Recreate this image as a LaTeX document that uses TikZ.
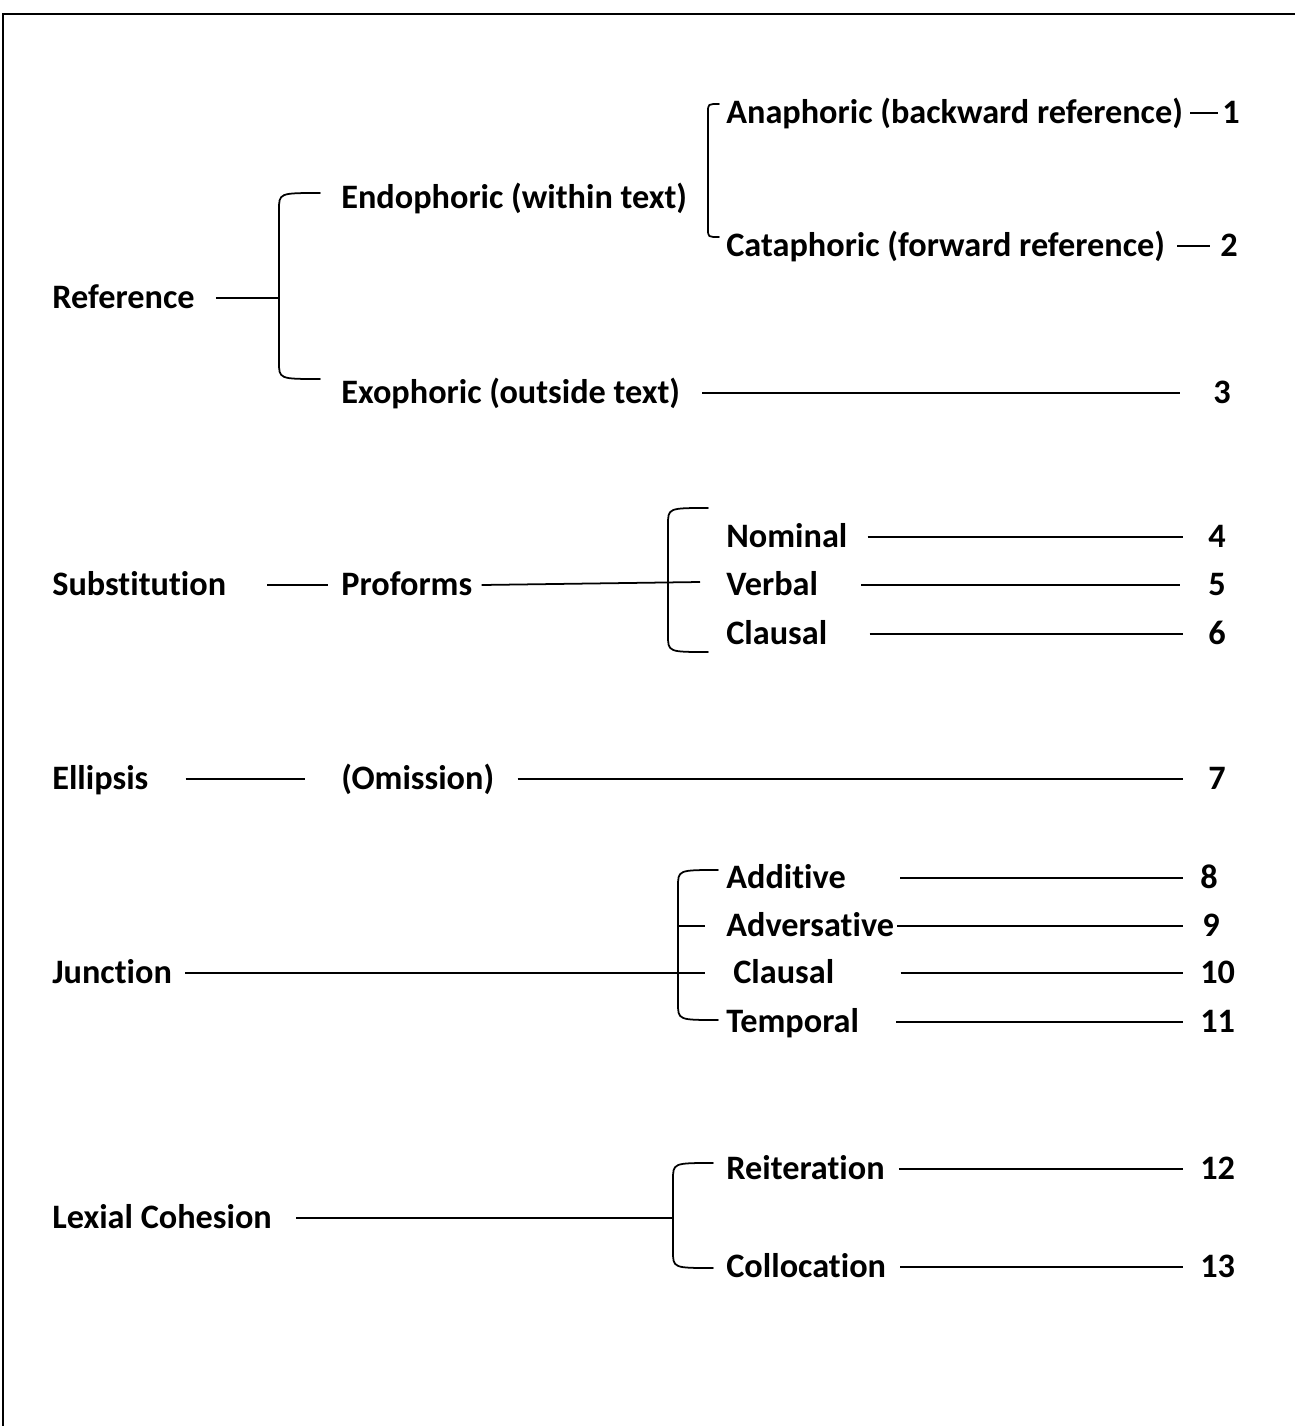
\documentclass[tikz,border=0pt]{standalone}
\usepackage{fontspec}
\setmainfont[Ligatures=NoCommon]{Carlito}

\begin{document}
\begin{tikzpicture}[x=0.02cm,y=-0.02cm]
    \tikzstyle{lbl} = [anchor=west,inner sep=0pt,text height=12.5pt,text depth=0pt,
                       font=\fontsize{19.5}{23}\selectfont\bfseries]
    \tikzstyle{rule} = [line width=1pt]
    \tikzstyle{brace} = [line width=1pt,line cap=round]

    \useasboundingbox (0,0) rectangle (1295,1426);
    \draw[line width=1.2pt] (3,1426) -- (3,14) -- (1295,14);

    % Reference
    \node[lbl] (ref) at (52,298) {Reference};
    \node[lbl] (endo) at (341,198) {Endophoric (within text)};
    \node[lbl] (exo) at (341,393) {Exophoric (outside text)};
    \node[lbl] (ana) at (726,113) {Anaphoric (backward reference)};
    \node[lbl] (cata) at (726,246) {Cataphoric (forward reference)};
    \node[lbl] (n1) at (1222,113) {1};
    \node[lbl] (n2) at (1220,246) {2};
    \node[lbl] (n3) at (1213,393) {3};
    \coordinate (refb) at (279,298);
    \draw[brace] (320,193) .. controls (279,193) .. (279,210) -- (279,362)
                 .. controls (279,379) .. (320,379);
    \draw[brace] (719,104) .. controls (708,104) .. (708,112) -- (708,229)
                 .. controls (708,237) .. (719,237);
    \draw[rule] ([xshift=.42cm]ref.east) -- (refb);
    \draw[rule] ([xshift=.14cm]ana.east) -- ([xshift=-.08cm]n1.west);
    \draw[rule] ([xshift=.24cm]cata.east) -- ([xshift=-.2cm]n2.west);
    \draw[rule] ([xshift=.44cm]exo.east) -- ([xshift=-.66cm]n3.west);

    % Substitution
    \node[lbl] (sub) at (52,585) {Substitution};
    \node[lbl] (pro) at (341,585) {Proforms};
    \node[lbl] (nom) at (726,537) {Nominal};
    \node[lbl] (verb) at (726,585) {Verbal};
    \node[lbl] (clau) at (726,634) {Clausal};
    \node[lbl] (n4) at (1208,537) {4};
    \node[lbl] (n5) at (1208,585) {5};
    \node[lbl] (n6) at (1208,634) {6};
    \coordinate (prob) at (700,582);
    \draw[brace] (708,508) .. controls (668,508) .. (668,525) -- (668,635)
                 .. controls (668,652) .. (708,652);
    \draw[rule] ([xshift=.82cm]sub.east) -- ([xshift=-.26cm]pro.west);
    \draw[rule] ([xshift=.18cm]pro.east) -- (prob);
    \draw[rule] ([xshift=.4cm]nom.east) -- ([xshift=-.5cm]n4.west);
    \draw[rule] ([xshift=.86cm]verb.east) -- ([xshift=-.56cm]n5.west);
    \draw[rule] ([xshift=.84cm]clau.east) -- ([xshift=-.5cm]n6.west);

    % Ellipsis
    \node[lbl] (ell) at (52,779) {Ellipsis};
    \node[lbl] (omi) at (341,779) {(Omission)};
    \node[lbl] (n7) at (1208,779) {7};
    \draw[rule] ([xshift=.74cm]ell.east) -- ([xshift=-.72cm]omi.west);
    \draw[rule] ([xshift=.46cm]omi.east) -- ([xshift=-.5cm]n7.west);

    % Junction
    \node[lbl] (jun) at (52,973) {Junction};
    \node[lbl] (add) at (726,878) {Additive};
    \node[lbl] (adv) at (726,926) {Adversative};
    \node[lbl] (jcl) at (733,973) {Clausal};
    \node[lbl] (temp) at (726,1022) {Temporal};
    \node[lbl] (n8) at (1200,878) {8};
    \node[lbl] (n9) at (1202,926) {9};
    \node[lbl] (n10) at (1200,973) {10};
    \node[lbl] (n11) at (1200,1022) {11};
    \coordinate (junb) at (705,973);
    \draw[brace] (718,870) .. controls (678,870) .. (678,887) -- (678,1003)
                 .. controls (678,1020) .. (718,1020);
    \draw[rule] (678,926) -- (705,926);
    \draw[rule] ([xshift=.26cm]jun.east) -- (junb);
    \draw[rule] ([xshift=1.08cm]add.east) -- ([xshift=-.34cm]n8.west);
    \draw[rule] ([xshift=.06cm]adv.east) -- ([xshift=-.38cm]n9.west);
    \draw[rule] ([xshift=1.32cm]jcl.east) -- ([xshift=-.34cm]n10.west);
    \draw[rule] ([xshift=.74cm]temp.east) -- ([xshift=-.34cm]n11.west);

    % Lexial cohesion
    \node[lbl] (lex) at (52,1218) {Lexial Cohesion};
    \node[lbl] (reit) at (726,1169) {Reiteration};
    \node[lbl] (coll) at (726,1267) {Collocation};
    \node[lbl] (n12) at (1200,1169) {12};
    \node[lbl] (n13) at (1200,1267) {13};
    \coordinate (lexb) at (673,1218);
    \draw[brace] (713,1163) .. controls (673,1163) .. (673,1180) -- (673,1251)
                 .. controls (673,1268) .. (713,1268);
    \draw[rule] ([xshift=.48cm]lex.east) -- (lexb);
    \draw[rule] ([xshift=.28cm]reit.east) -- ([xshift=-.34cm]n12.west);
    \draw[rule] ([xshift=.28cm]coll.east) -- ([xshift=-.34cm]n13.west);
\end{tikzpicture}
\end{document}
